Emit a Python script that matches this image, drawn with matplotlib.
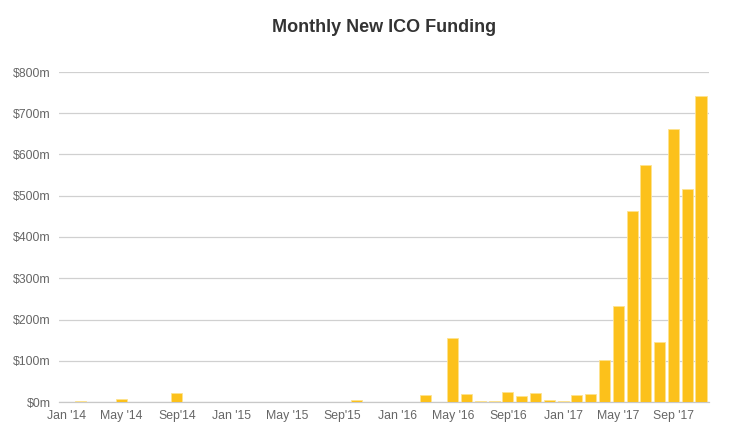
import matplotlib
matplotlib.use("Agg")
import matplotlib.pyplot as plt
import numpy as np

months = ["Jan '14","Feb '14","Mar '14","Apr '14","May '14","Jun '14","Jul '14","Aug '14","Sep'14","Oct '14","Nov '14","Dec '14",
          "Jan '15","Feb '15","Mar '15","Apr '15","May '15","Jun '15","Jul '15","Aug '15","Sep'15","Oct '15","Nov '15","Dec '15",
          "Jan '16","Feb '16","Mar '16","Apr '16","May '16","Jun '16","Jul '16","Aug '16","Sep'16","Oct '16","Nov '16","Dec '16",
          "Jan '17","Feb '17","Mar '17","Apr '17","May '17","Jun '17","Jul '17","Aug '17","Sep '17","Oct '17","Nov '17"]
funding = [0, 2, 0, 0, 7, 0, 0.5, 0.5, 22, 0, 0, 0.5,
           0.5, 0.5, 0, 0.5, 0.5, 0, 0, 0, 0.5, 6, 0, 0.3,
           0, 0, 17, 0.5, 155, 19, 3, 2, 24, 14, 21, 6,
           3, 17, 20, 103, 233, 462, 575, 145, 663, 516, 743]
yticks = [0, 100, 200, 300, 400, 500, 600, 700, 800]
ytick_labels = ["$0m", "$100m", "$200m", "$300m", "$400m", "$500m", "$600m", "$700m", "$800m"]
title = "Monthly New ICO Funding"

plt.rcParams['font.family'] = ['Liberation Sans', 'DejaVu Sans']

fig = plt.figure(figsize=(7.3, 4.28), dpi=100)
ax = fig.add_axes([59/730, (428-402)/428, 650/730, 330/428])

x = np.arange(len(months))
ax.bar(x, funding, width=0.8, color='#FCC11B', edgecolor='#FDE38F', linewidth=0.6, zorder=3)

ax.set_xlim(-0.54, 46.58)
ax.set_ylim(0, 800)
ax.set_yticks(yticks)
ax.set_yticklabels(ytick_labels)
tick_idx = list(range(0, len(months), 4))
ax.set_xticks(tick_idx)
ax.set_xticklabels([months[i] for i in tick_idx])

ax.grid(axis='y', color='#d0d0d0', linewidth=0.9, zorder=0)
for s in ['top', 'right', 'left']:
    ax.spines[s].set_visible(False)
ax.spines['bottom'].set_color('#c8c8c8')
ax.spines['bottom'].set_linewidth(0.9)
ax.tick_params(axis='both', length=0, colors='#666666', labelsize=8.8)
ax.tick_params(axis='y', pad=6)
ax.tick_params(axis='x', pad=6)

fig.text(384/730, 1 - 27/428, title, ha='center', va='center', fontsize=13,
         fontweight='bold', color='#333333')

fig.savefig('out.png', dpi=100)
